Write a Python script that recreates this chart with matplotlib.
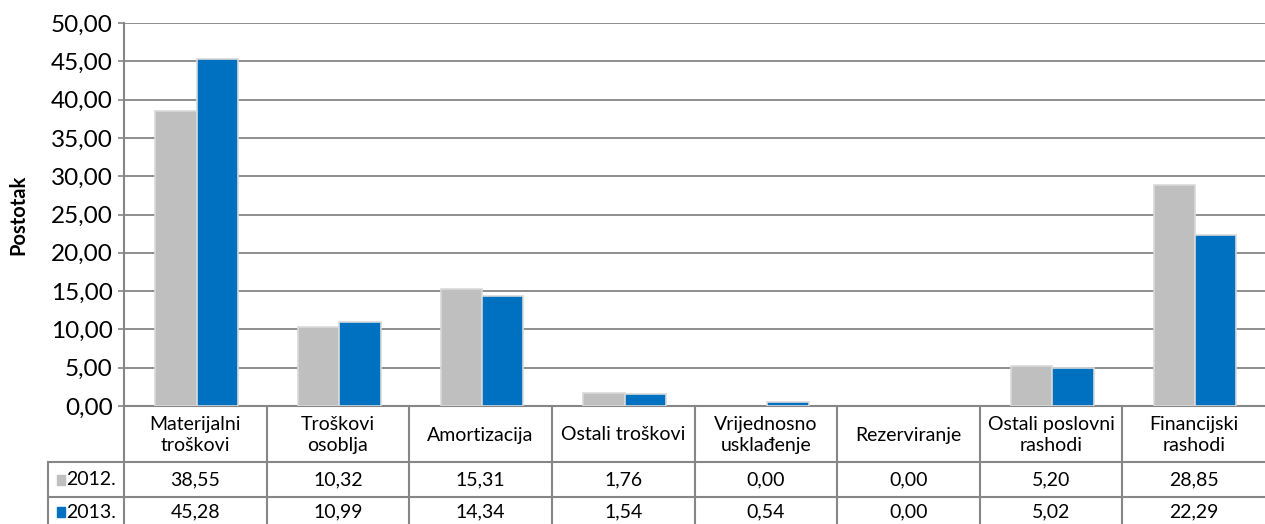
import numpy as np
import matplotlib
matplotlib.use("Agg")
import matplotlib.pyplot as plt
from matplotlib.patches import Rectangle

# data
categories = ["Materijalni\ntroškovi", "Troškovi\nosoblja", "Amortizacija", "Ostali troškovi",
              "Vrijednosno\nusklađenje", "Rezerviranje", "Ostali poslovni\nrashodi", "Financijski\nrashodi"]
series_names = ["2012.", "2013."]
values_2012 = [38.55, 10.32, 15.31, 1.76, 0.00, 0.00, 5.20, 28.85]
values_2013 = [45.28, 10.99, 14.34, 1.54, 0.54, 0.00, 5.02, 22.29]
y_ticks = [0, 5, 10, 15, 20, 25, 30, 35, 40, 45, 50]

colors = ["#BFBFBF", "#0070C0"]
grid_col = "#868686"
font = "Lato"

def fmt(v):
    return f"{v:.2f}".replace(".", ",")

W, H = 1265, 524
fig = plt.figure(figsize=(W / 100, H / 100), dpi=100)

# main bar axes (pixel placement)
left, right, top, base = 124, 1265, 23, 406
ax = fig.add_axes([left / W, (H - base) / H, (right - left) / W, (base - top) / H])
x = np.arange(len(categories))
bw = 0.29
for i, (vals, c) in enumerate(zip([values_2012, values_2013], colors)):
    off = (i - 0.5) * bw + 0.01
    edges = ["#D9D9D9" if v > 0 else "none" for v in vals]
    ax.bar(x + off, vals, width=bw, color=c, edgecolor=edges, linewidth=1.2, zorder=3)
ax.set_xlim(-0.5, len(categories) - 0.5)
ax.set_ylim(0, 50)
ax.set_yticks(y_ticks)
ax.set_yticklabels([fmt(v) for v in y_ticks], fontsize=17.5, fontfamily=font)
ax.tick_params(axis="y", length=4, width=1.2, color=grid_col, pad=4)
ax.set_xticks([])
ax.yaxis.grid(True, color=grid_col, linewidth=1.3, zorder=0)
ax.set_axisbelow(True)
for s in ["top", "right"]:
    ax.spines[s].set_visible(False)
for s in ["left", "bottom"]:
    ax.spines[s].set_color(grid_col)
    ax.spines[s].set_linewidth(1.5)
fig.text(18 / W, 1 - 215 / H, "Postotak", rotation=90, ha="center", va="center",
         fontsize=14.5, fontweight="bold", fontfamily=font)

# data table below the plot
tab_left = 48
lab_w = (left - tab_left) / ((right - left) / len(categories))
tax = fig.add_axes([tab_left / W, 0, (right - tab_left) / W, (H - base) / H])
tax.set_xlim(-0.5 - lab_w, len(categories) - 0.5)
tax.set_ylim(H - base, 0)
tax.axis("off")
lk = dict(color=grid_col, linewidth=1.5, clip_on=False)
for b in np.arange(len(categories)) - 0.5:
    tax.plot([b, b], [0, H - base + 5], **lk)
tax.plot([-0.5 - lab_w, -0.5 - lab_w], [56, H - base + 5], **lk)
for yl in [56, 91]:
    tax.plot([-0.5 - lab_w, len(categories) - 0.5], [yl, yl], **lk)

fs = 14
for i, cat in enumerate(categories):
    tax.text(i, 29, cat, ha="center", va="center", fontsize=fs, fontfamily=font, linespacing=1.3)
row_y = [73.5, 106]
for r, (vals, c, name) in enumerate(zip([values_2012, values_2013], colors, series_names)):
    for i, v in enumerate(vals):
        tax.text(i, row_y[r], fmt(v), ha="center", va="center", fontsize=fs, fontfamily=font)
    tax.add_patch(Rectangle((-0.5 - lab_w + 0.06, row_y[r] - 5), 0.06, 10, color=c, clip_on=False))
    tax.text(-0.5 - lab_w + 0.125, row_y[r], name, ha="left", va="center", fontsize=fs, fontfamily=font)

fig.savefig("out.png", dpi=100)
